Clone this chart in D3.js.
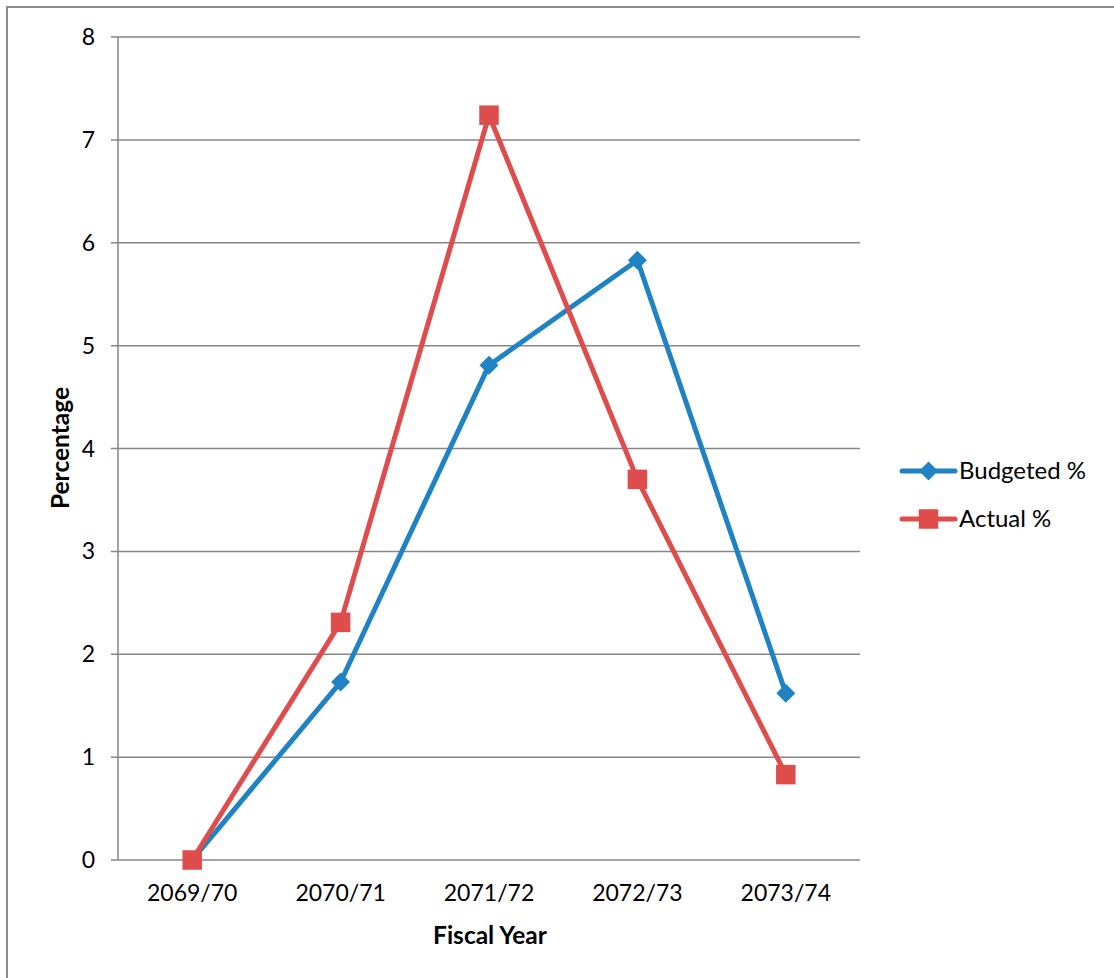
<!DOCTYPE html>
<html><head><meta charset="utf-8">
<script src="https://cdn.jsdelivr.net/npm/d3@7"></script>
<style>body{margin:0;background:#fff;}svg{display:block;font-family:Lato,"Open Sans",sans-serif;}</style>
</head><body>
<script>
const categories = ["2069/70","2070/71","2071/72","2072/73","2073/74"];
const budgeted = [0, 1.73, 4.81, 5.83, 1.62];
const actual = [0, 2.31, 7.24, 3.70, 0.83];
const yTicks = [0,1,2,3,4,5,6,7,8];
const seriesNames = ["Budgeted %","Actual %"];

(function(){
const W=1114,H=978;
const svg=d3.select("body").append("svg").attr("width",W).attr("height",H);
svg.append("rect").attr("x",7).attr("y",7).attr("width",W+10).attr("height",H+10).attr("fill","none").attr("stroke","#8c8c8c").attr("stroke-width",2);

const pLeft=118,pRight=860,pTop=37,pBottom=860;
const x=d3.scalePoint().domain(categories).range([pLeft,pRight]).padding(0.5);
const y=d3.scaleLinear().domain([0,8]).range([pBottom,pTop]);

const grid=svg.append("g");
yTicks.forEach(t=>{
  grid.append("line").attr("x1",pLeft-7).attr("x2",pRight).attr("y1",y(t)).attr("y2",y(t)).attr("stroke","#868686").attr("stroke-width",1.5);
  svg.append("text").attr("x",95).attr("y",y(t)).attr("dy","0.35em").attr("text-anchor","end").attr("font-size",23).attr("fill","#000").text(t);
});
grid.append("line").attr("x1",pLeft).attr("x2",pLeft).attr("y1",pTop).attr("y2",pBottom).attr("stroke","#868686").attr("stroke-width",1.5);

categories.forEach(c=>{
  svg.append("text").attr("x",x(c)).attr("y",893).attr("dy","0.35em").attr("text-anchor","middle").attr("font-size",23).attr("fill","#000").text(c);
});
svg.append("text").attr("x",490).attr("y",935).attr("dy","0.35em").attr("text-anchor","middle").attr("font-size",24.5).attr("font-weight","bold").text("Fiscal Year");
svg.append("text").attr("transform","translate(60,448) rotate(-90)").attr("dy","0.35em").attr("text-anchor","middle").attr("font-size",24.5).attr("font-weight","bold").text("Percentage");

const colors=["#1F83C3","#DE4D4B"];
const line=d3.line().x((d,i)=>x(categories[i])).y(d=>y(d));
svg.append("path").datum(budgeted).attr("d",line).attr("fill","none").attr("stroke",colors[0]).attr("stroke-width",5).attr("stroke-linejoin","round").attr("stroke-linecap","round");
svg.append("path").datum(actual).attr("d",line).attr("fill","none").attr("stroke",colors[1]).attr("stroke-width",5).attr("stroke-linejoin","round").attr("stroke-linecap","round");

const diamond=d3.symbol().type(d3.symbolSquare).size(180);
const sq=d3.symbol().type(d3.symbolSquare).size(380);
svg.selectAll(".bm").data(budgeted).join("path").attr("d",diamond).attr("transform",(d,i)=>`translate(${x(categories[i])},${y(d)}) rotate(45)`).attr("fill",colors[0]);
svg.selectAll(".am").data(actual).join("path").attr("d",sq).attr("transform",(d,i)=>`translate(${x(categories[i])},${y(d)})`).attr("fill",colors[1]);

const ly=[471,519];
[0,1].forEach(k=>{
  svg.append("line").attr("x1",902).attr("x2",955).attr("y1",ly[k]).attr("y2",ly[k]).attr("stroke",colors[k]).attr("stroke-width",5).attr("stroke-linecap","round");
  svg.append("path").attr("d",k===0?diamond:sq).attr("transform",`translate(928.5,${ly[k]})`+(k===0?" rotate(45)":"")).attr("fill",colors[k]);
  svg.append("text").attr("x",959).attr("y",ly[k]).attr("dy","0.35em").attr("font-size",24).text(seriesNames[k]);
});
})();
</script>
</body></html>
